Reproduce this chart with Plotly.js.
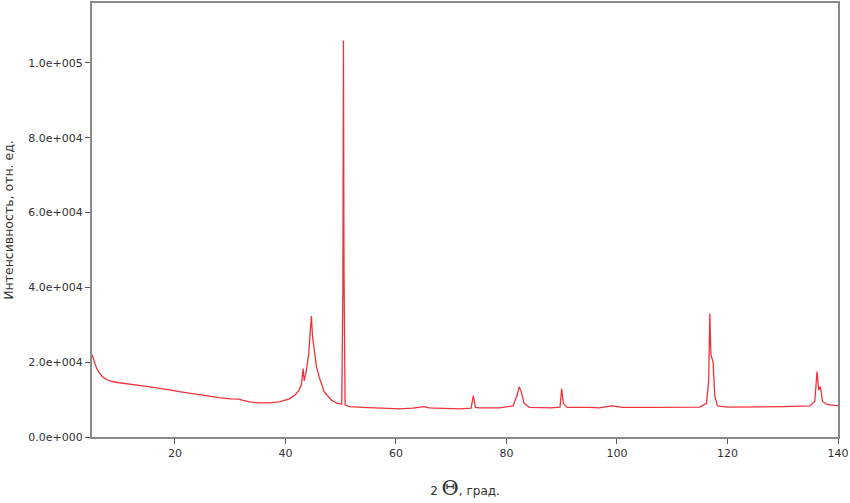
<!DOCTYPE html>
<html>
<head>
<meta charset="utf-8">
<script src="https://cdn.plot.ly/plotly-3.0.1.min.js"></script>
<style>html,body{margin:0;padding:0;background:#fff;}#chart{width:850px;height:503px;}</style>
</head>
<body>
<div id="chart"></div>
<script>
// 2θ, degrees
const twoTheta = [
  5.0, 5.3, 5.8, 6.3, 7.0, 7.7, 8.5, 9.9, 11.5, 13.5, 15.5, 17.1, 19.0, 20.8, 22.5, 24.4, 26.0, 28.0, 30.0, 31.6,
  32.3, 33.5, 35.3, 37.0, 38.9, 40.0, 40.7, 41.8, 42.5, 42.9, 43.2, 43.4, 43.7, 44.2, 44.5, 44.7, 44.9, 45.2, 45.6, 46.1,
  47.0, 48.3, 49.4, 50.2, 50.4, 50.5, 50.6, 50.8, 51.6, 54.0, 57.0, 60.6, 63.0, 65.1, 66.0, 67.9, 71.5, 73.6, 74.0, 74.4,
  75.1, 78.7, 81.2, 81.9, 82.3, 82.7, 83.2, 84.2, 88.0, 89.7, 90.0, 90.3, 91.0, 95.0, 96.8, 99.0, 101.0, 106.0, 110.0, 115.0,
  116.2, 116.6, 116.8, 117.0, 117.2, 117.4, 117.7, 118.2, 120.0, 125.0, 130.0, 134.9, 135.8, 136.2, 136.5, 136.8, 137.2, 138.0, 139.0, 140.0
];
// intensity, arb. units
const intensity = [
  22000, 20500, 18500, 17200, 16000, 15300, 14900, 14500, 14100, 13800, 13400, 13100, 12600, 12100, 11700, 11300, 10900, 10500, 10200, 10100,
  9800, 9400, 9100, 9100, 9400, 9800, 10200, 11300, 12600, 14000, 18300, 15000, 17000, 22000, 28000, 32300, 27000, 22800, 19000, 16100,
  12100, 9900, 9000, 8800, 40000, 106000, 45000, 8600, 8100, 7900, 7800, 7500, 7700, 8100, 7800, 7700, 7500, 7700, 11000, 7900,
  7800, 7800, 8300, 11000, 13400, 12000, 9000, 7900, 7800, 8000, 12900, 9000, 7900, 7900, 7800, 8300, 7900, 7900, 8000, 8000,
  9000, 15000, 33000, 22000, 21000, 20000, 11000, 8300, 8000, 8000, 8100, 8300, 9500, 17500, 12500, 13500, 9500, 8700, 8400, 8300
];
const yTickVals = [0, 20000, 40000, 60000, 80000, 100000];
const yTickText = ["0.0e+000", "2.0e+004", "4.0e+004", "6.0e+004", "8.0e+004", "1.0e+005"];
const xTickVals = [20, 40, 60, 80, 100, 120, 140];
const xTickText = ["20", "40", "60", "80", "100", "120", "140"];

const trace = {
  x: twoTheta, y: intensity, type: 'scatter', mode: 'lines',
  line: {color: 'rgb(240,50,60)', width: 1.3},
  hoverinfo: 'skip'
};
const layout = {
  width: 850, height: 503,
  margin: {l: 92, r: 12, t: 3, b: 66},
  paper_bgcolor: '#fff', plot_bgcolor: '#fff',
  showlegend: false,
  font: {family: 'DejaVu Sans, sans-serif', size: 11, color: '#333'},
  xaxis: {
    range: [5, 140], tickvals: xTickVals, ticktext: xTickText,
    showgrid: false, zeroline: false, showline: true, mirror: true,
    linecolor: '#8a8a8a', linewidth: 2, ticks: 'outside', ticklen: 5, tickcolor: '#555', tickwidth: 1,
    automargin: false,
    title: {text: '2 <span style="font-family:\'DejaVu Serif\',serif;font-size:21px">Θ</span>, град.', standoff: 27, font: {size: 12, color: '#333'}}
  },
  yaxis: {
    range: [0, 116000], tickvals: yTickVals, ticktext: yTickText,
    showgrid: false, zeroline: false, showline: true, mirror: true,
    linecolor: '#8a8a8a', linewidth: 2, ticks: 'outside', ticklen: 5, tickcolor: '#555', tickwidth: 1,
    automargin: false,
    title: {text: 'Интенсивность, отн. ед.', standoff: 12, font: {size: 12.5, color: '#333'}}
  }
};
Plotly.newPlot('chart', [trace], layout, {staticPlot: true, displayModeBar: false});
</script>
</body>
</html>
